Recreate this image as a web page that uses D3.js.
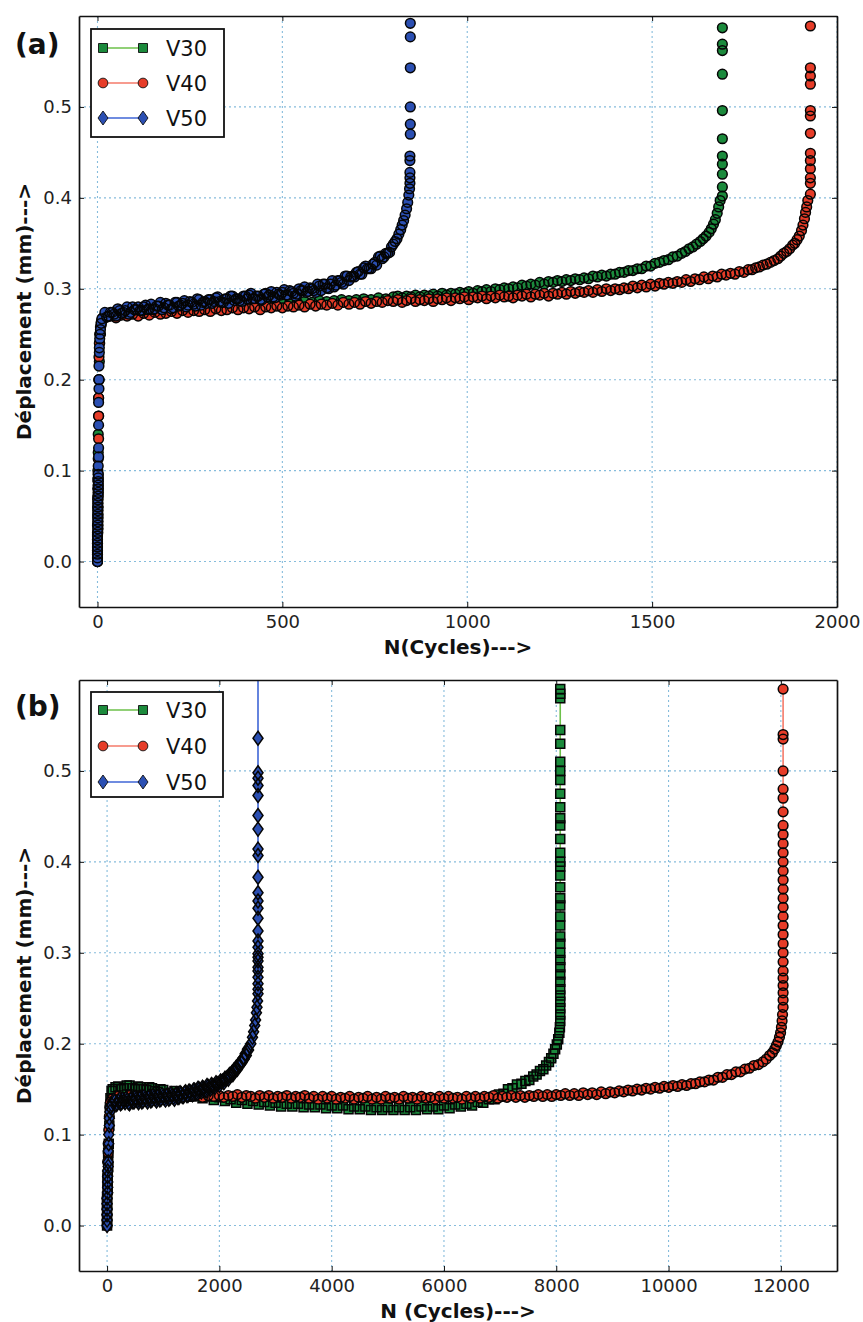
<!DOCTYPE html>
<html><head><meta charset="utf-8">
<script src="https://cdn.jsdelivr.net/npm/d3@7"></script>
<style>body{margin:0;background:#fff}svg{display:block}</style>
</head><body>
<svg id="c" width="863" height="1322"></svg>
<script>
// ---------- tick labels / categories ----------
const seriesNames = ["V30", "V40", "V50"];
const xTicksA = [0, 500, 1000, 1500, 2000];
const xTicksB = [0, 2000, 4000, 6000, 8000, 10000, 12000];
const yTicks = [0.0, 0.1, 0.2, 0.3, 0.4, 0.5];
const xLabelA = "N(Cycles)--->";
const xLabelB = "N (Cycles)--->";
const yLabel = "Déplacement (mm)--->";

// ---------- panel (a) data: [N cycles, displacement mm] ----------
const a_V30 = [[0,0],[0,.01],[0,.02],[0,.03],[0,.04],[1,.05],[1,.06],[1,.07],[1,.08],[1,.09],[1,.1],[2,.12],[2,.14],[3,.16],[3,.18],[4,.2],[5,.22],[6,.24],[8,.25],[10,.26],[12,.265],[14,.268],
[20,.270],[40,.272],[60,.271],[80,.273],[100,.274],[120,.273],[140,.275],[160,.276],[180,.275],[200,.277],[220,.276],[240,.278],[260,.279],[280,.278],[300,.280],[320,.279],[340,.281],[360,.282],[380,.281],[400,.282],[420,.283],[440,.282],[460,.284],[480,.283],[500,.285],[520,.284],[540,.285],[560,.286],[580,.285],[600,.287],[620,.286],[640,.287],[660,.288],[680,.287],[700,.288],[720,.289],[740,.288],[760,.290],[780,.289],[800,.291],
[812,.292],[824,.290],[836,.292],[848,.291],[860,.293],[872,.291],[884,.293],[896,.292],[908,.294],[920,.292],[932,.295],[944,.293],[956,.295],[968,.294],[980,.296],[992,.295],[1004,.297],[1016,.295],[1028,.298],[1040,.297],[1052,.299],[1064,.297],[1076,.300],[1088,.299],[1100,.301],[1112,.300],[1124,.302],[1136,.301],[1148,.304],[1160,.303],[1172,.305],[1184,.304],[1196,.307],[1208,.305],[1220,.308],[1232,.307],[1244,.309],[1256,.308],[1268,.310],[1280,.309],[1292,.311],[1304,.310],[1316,.312],[1328,.311],[1340,.314],[1352,.313],[1364,.315],[1376,.314],[1388,.316],[1400,.316],[1412,.318],[1424,.318],[1436,.320],[1448,.320],[1460,.322],[1472,.322],[1484,.325],[1496,.325],[1508,.328],[1520,.329],[1532,.331],[1544,.332],[1556,.335],[1568,.336],[1580,.339],[1590,.341],[1600,.344],[1610,.346],[1620,.349],[1630,.352],[1638,.355],[1646,.358],[1654,.362],[1660,.366],[1666,.371],[1671,.376],[1676,.383],[1680,.390],[1684,.397],
[1690,.402],[1690,.412],[1690,.426],[1690,.437],[1690,.446],[1690,.465],[1690,.496],[1690,.536],[1690,.562],[1690,.569],[1690,.587]];

const a_V40 = [[0,0],[0,.004],[0,.008],[0,.012],[0,.016],[0,.020],[0,.024],[0,.028],[0,.032],[1,.036],[1,.04],[1,.044],[1,.048],[1,.052],[1,.056],[1,.06],[1,.064],[1,.068],[1,.072],[2,.076],[2,.08],[2,.084],[2,.088],[2,.092],[2,.096],[2,.113],[3,.135],[3,.16],[3,.18],[4,.2],[4,.225],[5,.24],[6,.25],[8,.258],[10,.263],[12,.266],
[20,.268],[35,.270],[50,.268],[65,.271],[80,.270],[95,.272],[110,.270],[125,.273],[140,.271],[155,.274],[170,.272],[185,.273],[200,.275],[215,.273],[230,.276],[245,.274],[260,.276],[275,.275],[290,.277],[305,.275],[320,.278],[335,.276],[350,.277],[365,.279],[380,.277],[395,.279],[410,.278],[425,.280],[440,.277],[455,.280],[470,.279],[485,.281],[500,.279],[515,.281],[530,.280],[545,.282],[560,.280],[575,.283],[590,.281],[605,.283],[620,.282],[635,.284],[650,.282],[665,.285],[680,.283],[695,.285],[710,.283],[725,.286],[740,.284],[755,.286],[770,.285],[785,.287],[800,.286],
[812,.288],[824,.285],[836,.287],[848,.289],[860,.286],[872,.288],[884,.287],[896,.289],[908,.286],[920,.289],[932,.288],[944,.290],[956,.287],[968,.290],[980,.289],[992,.291],[1004,.288],[1016,.291],[1028,.290],[1040,.292],[1052,.289],[1064,.292],[1076,.290],[1088,.293],[1100,.291],[1112,.292],[1124,.290],[1136,.293],[1148,.292],[1160,.294],[1172,.291],[1184,.294],[1196,.293],[1208,.295],[1220,.292],[1232,.295],[1244,.294],[1256,.296],[1268,.294],[1280,.297],[1292,.295],[1304,.297],[1316,.296],[1328,.298],[1340,.296],[1352,.299],[1364,.297],[1376,.300],[1388,.298],[1400,.300],[1412,.299],[1424,.301],[1436,.300],[1448,.303],[1460,.301],[1472,.304],[1484,.302],[1496,.305],[1508,.303],[1520,.306],[1532,.305],[1544,.307],[1556,.306],[1568,.308],[1580,.307],[1592,.310],[1604,.308],[1616,.311],[1628,.310],[1640,.313],[1652,.311],[1664,.314],[1676,.313],[1688,.316],[1700,.315],[1712,.317],[1724,.316],[1736,.319],[1748,.318],[1760,.321],[1770,.321],[1780,.323],[1790,.324],[1800,.326],[1810,.327],[1820,.329],[1830,.331],[1840,.333],[1848,.336],[1856,.339],[1864,.341],[1872,.344],[1880,.348],[1886,.350],[1892,.354],[1898,.358],[1904,.364],[1908,.370],[1912,.377],[1915,.384],[1918,.390],[1921,.397],
[1928,.404],[1928,.416],[1928,.422],[1928,.432],[1928,.441],[1928,.449],[1928,.471],[1928,.490],[1928,.496],[1928,.525],[1928,.534],[1928,.543],[1928,.589]];

const a_V50 = [[0,0],[0,.004],[0,.008],[0,.012],[0,.016],[0,.02],[0,.024],[0,.028],[1,.032],[1,.036],[1,.04],[1,.044],[1,.048],[1,.052],[1,.056],[1,.06],[1,.064],[1,.068],[2,.072],[2,.076],[2,.08],[2,.084],[2,.088],[2,.092],[2,.096],[2,.105],[3,.115],[3,.125],[3,.15],[3,.175],[4,.19],[4,.2],[4,.215],[5,.23],[5,.235],[6,.245],[7,.25],[8,.255],[10,.262],[12,.267],
[20,.274],[25,.269],[30,.270],[35,.274],[40,.274],[45,.272],[50,.270],[55,.278],[60,.276],[65,.273],[70,.274],[75,.276],[80,.280],[85,.272],[90,.274],[95,.280],[100,.277],[105,.277],[110,.280],[115,.276],[120,.276],[125,.280],[130,.282],[135,.277],[140,.278],[145,.283],[150,.277],[155,.278],[160,.281],[165,.281],[170,.285],[175,.277],[180,.279],[185,.284],[190,.282],[195,.282],[200,.278],[205,.279],[210,.285],[215,.285],[220,.281],[225,.282],[230,.284],[235,.287],[240,.280],[245,.282],[250,.286],[255,.285],[260,.283],[265,.281],[270,.289],[275,.288],[280,.282],[285,.285],[290,.286],[295,.284],[300,.288],[305,.288],[310,.284],[315,.286],[320,.290],[325,.291],[330,.286],[335,.285],[340,.285],[345,.289],[350,.289],[355,.284],[360,.292],[365,.292],[370,.287],[375,.289],[380,.289],[385,.287],[390,.286],[395,.292],[400,.292],[405,.289],[410,.293],[415,.295],[420,.289],[425,.289],[430,.292],[435,.292],[440,.288],[445,.288],[450,.294],[455,.295],[460,.291],[465,.293],[470,.297],[475,.291],[480,.290],[485,.296],[490,.294],[495,.293],[500,.296],[505,.299],[510,.293],[515,.293],[520,.298],[525,.297],[530,.295],[535,.292],[540,.294],[545,.300],[550,.298],[555,.298],[560,.302],[565,.296],[570,.297],[575,.301],[580,.300],[585,.298],[590,.296],[595,.305],[600,.303],[605,.298],[610,.305],[615,.305],[620,.301],[625,.300],[630,.305],[635,.309],[640,.302],[645,.304],[650,.309],[655,.309],[660,.307],[665,.305],[670,.314],[675,.314],[680,.309],[685,.313],[690,.314],[695,.313],[700,.318],[705,.319],[710,.316],[715,.316],[720,.323],[725,.325],[730,.322],[735,.322],[740,.322],[745,.327],[750,.329],[755,.326],[760,.335],[765,.336],[770,.333],[775,.335],[780,.339],[785,.339],[790,.340],[795,.346],[800,.349],[805,.352],[810,.355],[815,.360],[820,.365],[824,.370],[828,.375],[832,.381],[836,.388],[839,.395],[842,.403],[844,.410],
[845,.416],[845,.422],[845,.428],[845,.441],[845,.446],[846,.470],[846,.481],[846,.500],[846,.543],[846,.577],[846,.592]];

// ---------- panel (b) data: [N cycles, displacement mm] ----------
const b_V30 = [[0,0],[0,.008],[0,.016],[0,.024],[0,.032],[10,.04],[10,.048],[10,.056],[20,.064],[20,.072],[20,.08],[30,.09],[40,.11],[50,.13],[60,.14],[80,.148],
[100,.150],[150,.152],[200,.153],[250,.150],[300,.151],[350,.154],[400,.154],[450,.151],[500,.150],[550,.153],[600,.152],[650,.150],[700,.149],[750,.152],[800,.151],[850,.148],[900,.147],[950,.150],[1000,.149],[1100,.145],[1200,.148],[1300,.144],[1400,.146],[1500,.142],[1600,.144],[1700,.140],[1800,.142],[1900,.138],[2000,.141],[2100,.137],[2200,.139],[2300,.135],[2400,.138],[2500,.134],[2600,.137],[2700,.133],[2800,.136],[2900,.132],[3000,.135],[3100,.131],[3200,.134],[3300,.131],[3400,.134],[3500,.130],[3600,.133],[3700,.130],[3800,.133],[3900,.129],[4000,.132],[4100,.129],[4200,.132],[4300,.128],[4400,.131],[4500,.128],[4600,.131],[4700,.127],[4800,.130],[4900,.127],[5000,.130],[5100,.127],[5200,.130],[5300,.127],[5400,.130],[5500,.127],[5600,.131],[5700,.128],[5800,.131],[5900,.128],[6000,.132],[6100,.129],[6200,.133],[6300,.131],[6400,.134],[6500,.132],[6600,.136],[6700,.135],[6800,.139],[6900,.139],
[6980,.144],[7060,.145],[7140,.150],[7220,.151],[7300,.155],[7380,.156],[7450,.159],[7520,.160],[7590,.164],[7650,.166],[7710,.170],[7770,.172],[7820,.176],[7870,.180],[7910,.184],[7950,.189],[7980,.194],[8010,.199],[8035,.205],[8055,.212],[8065,.218],
[8071,.225],[8071,.232],[8071,.239],[8071,.246],[8071,.253],[8071,.260],[8071,.268],[8071,.276],[8071,.284],[8071,.292],[8071,.300],[8071,.310],[8071,.318],[8071,.330],[8071,.340],[8071,.352],[8071,.360],[8071,.372],[8071,.385],[8071,.395],[8071,.400],[8071,.410],[8071,.425],[8071,.440],[8071,.448],[8071,.460],[8071,.475],[8071,.490],[8071,.500],[8071,.510],[8071,.530],[8071,.545],[8071,.580],[8071,.585],[8071,.590]];

const b_V40 = [[0,0],[0,.006],[0,.012],[0,.018],[0,.024],[0,.03],[10,.036],[10,.042],[10,.048],[10,.055],[10,.07],[20,.08],[20,.09],[30,.105],[40,.12],[50,.13],[60,.136],[80,.139],
[100,.140],[200,.142],[300,.141],[400,.143],[500,.141],[600,.143],[700,.142],[800,.144],[900,.141],[1000,.143],[1100,.142],[1200,.144],[1300,.141],[1400,.143],[1500,.142],[1600,.144],[1700,.141],[1800,.143],[1900,.142],
[2000,.143],[2080,.141],[2160,.143],[2240,.142],[2320,.144],[2400,.141],[2480,.143],[2560,.142],[2640,.140],[2720,.143],[2800,.141],[2880,.143],[2960,.140],[3040,.142],[3120,.141],[3200,.143],[3280,.140],[3360,.142],[3440,.141],[3520,.143],[3600,.140],[3680,.142],[3760,.139],[3840,.142],[3920,.140],[4000,.142],[4080,.139],[4160,.141],[4240,.140],[4320,.142],[4400,.139],[4480,.141],[4560,.140],[4640,.142],[4720,.139],[4800,.141],[4880,.139],[4960,.142],[5040,.140],[5120,.141],[5200,.139],[5280,.142],[5360,.140],[5440,.141],[5520,.139],[5600,.142],[5680,.140],[5760,.141],[5840,.139],[5920,.142],[6000,.140],[6080,.142],[6160,.140],[6240,.141],[6320,.139],[6400,.142],[6480,.140],[6560,.142],[6640,.140],[6720,.142],[6800,.141],[6880,.143],[6960,.140],[7040,.142],[7120,.141],[7200,.143],[7280,.141],[7360,.143],[7440,.141],[7520,.143],[7600,.142],[7680,.144],[7760,.142],[7840,.144],[7920,.142],[8000,.144],[8080,.143],[8160,.145],[8240,.143],[8320,.145],[8400,.143],[8480,.146],[8560,.144],[8640,.146],[8720,.144],[8800,.147],[8880,.145],[8960,.147],[9040,.146],[9120,.148],[9200,.147],[9280,.149],[9360,.148],[9440,.150],[9520,.149],[9600,.151],[9680,.150],[9760,.152],[9840,.151],[9920,.153],[10000,.152],[10080,.154],[10160,.153],[10240,.155],[10320,.154],[10400,.156],[10480,.156],[10560,.158],[10640,.158],[10720,.160],[10800,.160],[10880,.163],[10960,.163],[11040,.166],[11120,.166],[11200,.169],[11280,.169],[11360,.172],[11440,.173],[11520,.176],[11600,.177],[11680,.180],[11740,.183],[11800,.187],[11850,.190],[11890,.194],[11920,.198],[11950,.202],[11975,.207],[11995,.212],[12010,.218],[12022,.225],[12030,.232],
[12040,.240],[12040,.248],[12040,.256],[12040,.264],[12040,.272],[12040,.280],[12040,.290],[12040,.300],[12040,.310],[12040,.320],[12040,.330],[12040,.340],[12040,.350],[12040,.360],[12040,.370],[12040,.380],[12040,.390],[12040,.400],[12040,.410],[12040,.420],[12040,.430],[12040,.440],[12040,.455],[12040,.470],[12040,.480],[12040,.500],[12040,.535],[12040,.540],[12040,.590]];

const b_V50 = [[0,0],[0,.006],[0,.012],[0,.018],[0,.024],[0,.03],[10,.036],[10,.042],[10,.048],[10,.054],[10,.06],[20,.065],[20,.07],[20,.082],[30,.09],[30,.1],[40,.11],[40,.118],[50,.125],[60,.13],[80,.133],
[120,.138],[140,.137],[160,.133],[180,.134],[200,.137],[220,.139],[240,.134],[260,.135],[280,.139],[300,.137],[320,.135],[340,.140],[360,.138],[380,.135],[400,.134],[420,.139],[440,.140],[460,.136],[480,.136],[500,.141],[520,.139],[540,.137],[560,.135],[580,.140],[600,.141],[620,.136],[640,.137],[660,.142],[680,.140],[700,.138],[720,.136],[740,.141],[760,.142],[780,.137],[800,.138],[820,.143],[840,.141],[860,.139],[880,.137],[900,.142],[920,.143],[940,.138],[960,.139],[980,.144],[1000,.142],[1020,.140],[1040,.138],[1060,.143],[1080,.144],[1100,.139],[1120,.140],[1140,.145],[1160,.143],[1180,.141],[1200,.139],[1220,.144],[1240,.145],[1260,.141],[1280,.141],[1300,.146],[1320,.145],[1340,.142],[1360,.142],[1380,.146],[1400,.147],[1420,.143],[1440,.143],[1460,.148],[1480,.147],[1500,.145],[1520,.144],[1540,.149],[1560,.149],[1580,.146],[1600,.145],[1620,.151],[1640,.150],[1660,.148],[1680,.147],[1700,.152],[1720,.151],[1740,.149],[1760,.148],[1780,.154],[1800,.153],[1820,.151],[1840,.150],[1860,.155],[1880,.154],[1900,.153],[1920,.152],[1940,.157],[1960,.156],[1980,.156],[2000,.154],[2020,.159],[2040,.158],[2060,.159],[2080,.157],[2100,.162],[2120,.161],[2140,.163],[2160,.161],[2180,.166],[2200,.165],[2220,.168],[2240,.166],[2260,.171],[2280,.170],[2300,.174],[2320,.172],[2340,.177],[2360,.176],[2380,.180],[2400,.179],[2420,.184],[2440,.183],[2460,.189],[2480,.187],[2500,.194],[2520,.193],[2560,.200],[2590,.207],[2610,.213],[2630,.220],[2645,.226],[2660,.234],[2670,.240],[2680,.247],
[2688,.255],[2688,.260],[2688,.266],[2688,.273],[2688,.280],[2688,.284],[2688,.291],[2688,.295],[2688,.299],[2688,.306],[2688,.313],[2688,.324],[2688,.338],[2688,.349],[2688,.357],[2688,.366],[2688,.383],[2688,.407],[2688,.414],[2688,.436],[2688,.451],[2688,.473],[2688,.484],[2688,.492],[2688,.498],[2688,.536],[2688,.700]];

// ---------- styles ----------
const style = {
  V30: {fill: "#1b8a3c", line: "#6cc04a"},
  V40: {fill: "#e63c28", line: "#f47a6a"},
  V50: {fill: "#2b4fb2", line: "#3f66d6"}
};
const FONT = "DejaVu Sans, Verdana, sans-serif";
const svg = d3.select("#c");
const L = 79, R = 837;
const yDomain = [-0.05, 0.6];

function markerPath(shape) {
  if (shape === "square") return d3.symbol(d3.symbolSquare, 81)();
  if (shape === "diamond") return "M0,-7L5,0L0,7L-5,0Z";
  return d3.symbol(d3.symbolCircle, 74)();
}

function drawPanel(p) {
  const x = d3.scaleLinear().domain(p.xDomain).range([L, R]);
  const y = d3.scaleLinear().domain(yDomain).range([p.bottom, p.top]);
  const g = svg.append("g");
  svg.append("clipPath").attr("id", "clip" + p.id).append("rect")
    .attr("x", L).attr("y", p.top).attr("width", R - L).attr("height", p.bottom - p.top);

  // grid
  const grid = g.append("g").attr("stroke", "#86bcdc").attr("stroke-width", 1.1).attr("stroke-dasharray", "2,3");
  grid.selectAll(".gx").data(p.xTicks).join("line")
    .attr("x1", d => x(d)).attr("x2", d => x(d)).attr("y1", p.top).attr("y2", p.bottom);
  grid.selectAll(".gy").data(yTicks).join("line")
    .attr("y1", d => y(d)).attr("y2", d => y(d)).attr("x1", L).attr("x2", R);

  // data: per series, line, then marker faces, then marker edges on top
  const dg = g.append("g").attr("clip-path", `url(#clip${p.id})`);
  p.series.forEach(s => {
    if (p.lines) {
      dg.append("path").datum(s.data)
        .attr("d", d3.line().x(d => x(d[0])).y(d => y(d[1])))
        .attr("fill", "none").attr("stroke", style[s.name].line).attr("stroke-width", 1.6);
    }
    const mp = markerPath(p.shapes[s.name]);
    dg.append("g").selectAll("path").data(s.data).join("path")
      .attr("transform", d => `translate(${x(d[0])},${y(d[1])})`)
      .attr("d", mp).attr("fill", style[s.name].fill);
    dg.append("g").selectAll("path").data(s.data).join("path")
      .attr("transform", d => `translate(${x(d[0])},${y(d[1])})`)
      .attr("d", mp).attr("fill", "none")
      .attr("stroke", "#050505").attr("stroke-width", 1.5);
  });

  // axes (ticks inside)
  const axes = [
    g.append("g").attr("transform", `translate(0,${p.bottom})`)
      .call(d3.axisBottom(x).tickValues(p.xTicks).tickFormat(d3.format("d")).tickSize(-5).tickSizeOuter(0).tickPadding(8)),
    g.append("g").attr("transform", `translate(0,${p.top})`)
      .call(d3.axisTop(x).tickValues(p.xTicks).tickFormat("").tickSize(-5).tickSizeOuter(0)),
    g.append("g").attr("transform", `translate(${L},0)`)
      .call(d3.axisLeft(y).tickValues(yTicks).tickFormat(d3.format(".1f")).tickSize(-5).tickSizeOuter(0).tickPadding(7)),
    g.append("g").attr("transform", `translate(${R},0)`)
      .call(d3.axisRight(y).tickValues(yTicks).tickFormat("").tickSize(-5).tickSizeOuter(0))
  ];
  axes.forEach(a => {
    a.attr("font-family", FONT).attr("font-size", 18);
    a.select(".domain").attr("stroke", "#111").attr("stroke-width", 1.7);
    a.selectAll(".tick line").attr("stroke", "#111").attr("stroke-width", 1);
    a.selectAll(".tick text").attr("fill", "#222");
  });

  // labels
  g.append("text").attr("x", (L + R) / 2).attr("y", p.bottom + 47)
    .attr("text-anchor", "middle").attr("font-family", FONT).attr("font-weight", "bold")
    .attr("font-size", 20).attr("fill", "#111").text(p.xLabel);
  g.append("text").attr("transform", `translate(31,${(p.top + p.bottom) / 2}) rotate(-90)`)
    .attr("text-anchor", "middle").attr("font-family", FONT).attr("font-weight", "bold")
    .attr("font-size", 20).attr("fill", "#111").text(yLabel);
  g.append("text").attr("x", 15).attr("y", p.tagY)
    .attr("font-family", FONT).attr("font-weight", "bold")
    .attr("font-size", 28).attr("fill", "#111").text(p.tag);

  // legend
  const lg = g.append("g");
  lg.append("rect").attr("x", p.legend.x).attr("y", p.legend.y).attr("width", p.legend.w).attr("height", p.legend.h)
    .attr("fill", "#fff").attr("stroke", "#111").attr("stroke-width", 1.8);
  const legendShapes = {V30: "square", V40: "circle", V50: "diamond"};
  seriesNames.forEach((name, i) => {
    const ry = p.legend.rows[i];
    lg.append("line").attr("x1", 103).attr("x2", 143).attr("y1", ry).attr("y2", ry)
      .attr("stroke", style[name].line).attr("stroke-width", 1.6);
    [103, 143].forEach(mx => {
      lg.append("path").attr("transform", `translate(${mx},${ry})`)
        .attr("d", markerPath(legendShapes[name]))
        .attr("fill", style[name].fill).attr("stroke", "#101010").attr("stroke-width", 0.9);
    });
    lg.append("text").attr("x", 166).attr("y", ry).attr("dy", "0.36em")
      .attr("font-family", FONT).attr("font-size", 21).attr("fill", "#111").text(name);
  });
}

drawPanel({
  id: "a", top: 16, bottom: 607, xDomain: [-50, 2000], xTicks: xTicksA, xLabel: xLabelA,
  tag: "(a)", tagY: 54, lines: false,
  shapes: {V30: "circle", V40: "circle", V50: "circle"},
  series: [{name: "V30", data: a_V30}, {name: "V40", data: a_V40}, {name: "V50", data: a_V50}],
  legend: {x: 91, y: 29, w: 133, h: 108, rows: [48, 83, 118]}
});
drawPanel({
  id: "b", top: 680, bottom: 1271, xDomain: [-500, 13000], xTicks: xTicksB, xLabel: xLabelB,
  tag: "(b)", tagY: 716, lines: true,
  shapes: {V30: "square", V40: "circle", V50: "diamond"},
  series: [{name: "V30", data: b_V30}, {name: "V40", data: b_V40}, {name: "V50", data: b_V50}],
  legend: {x: 91, y: 692, w: 132, h: 105, rows: [710, 746, 782]}
});
</script>
</body></html>
